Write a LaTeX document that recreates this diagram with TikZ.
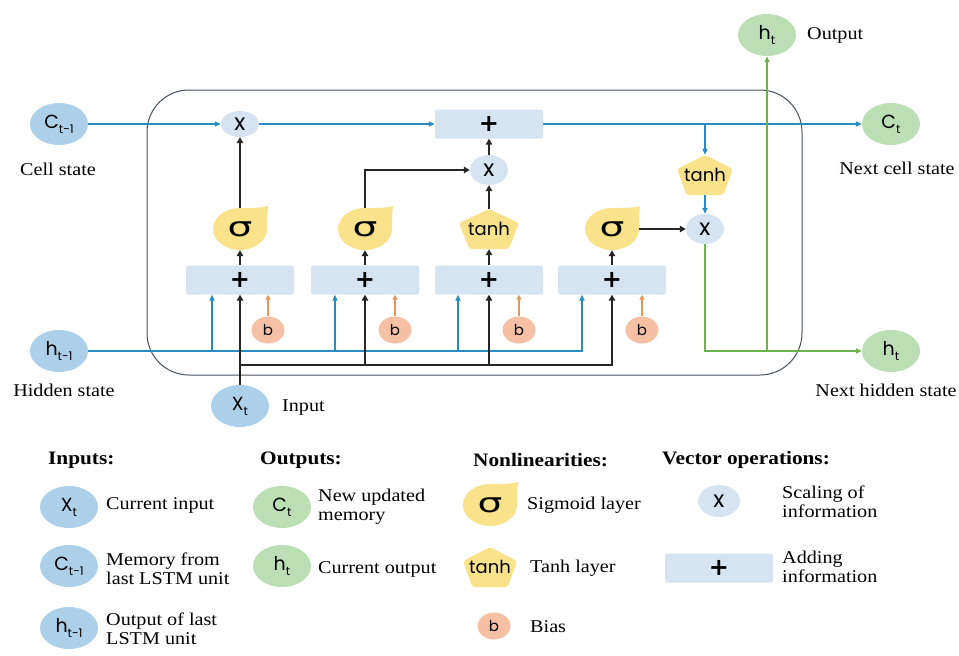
\documentclass[tikz,border=0pt]{standalone}
\usepackage{fontspec}
\setmainfont{Liberation Serif}[FakeStretch=1.12]
\newfontfamily\symfont{Poppins}
\newfontfamily\sigfont{DejaVu Sans}[FakeStretch=1.45]
\newfontfamily\plusfont{DejaVu Sans}
\usetikzlibrary{arrows.meta,calc,shapes.geometric,backgrounds}
\definecolor{inblue}{RGB}{172,208,234}
\definecolor{outgreen}{RGB}{188,222,180}
\definecolor{sigyel}{RGB}{250,226,138}
\definecolor{biasor}{RGB}{246,192,164}
\definecolor{opblue}{RGB}{214,228,242}
\definecolor{lineblue}{RGB}{40,140,196}
\definecolor{linegreen}{RGB}{110,178,76}
\definecolor{arrowor}{RGB}{232,150,88}
\definecolor{framegray}{RGB}{70,82,96}
\newcommand\lsub[1]{\raisebox{-5pt}{\fontsize{12}{12}\selectfont #1}}
\newcommand\teardrop[1]{\fill[sigyel, shift={(#1.center)}] (0pt,21pt) .. controls (12pt,21pt) and (22pt,21pt) .. (28pt,23pt) .. controls (27pt,16pt) and (27pt,8pt) .. (27pt,0pt) arc[start angle=0, end angle=-270, x radius=27pt, y radius=21pt] -- cycle;}
\newcommand\pentshape[2]{\fill[sigyel, rounded corners=3pt, shift={(#1.center)}] (0pt,20pt) -- (#2pt,6pt) -- ({#2*0.66pt},-20pt) -- ({-#2*0.66pt},-20pt) -- (-#2pt,6pt) -- cycle;}
\begin{document}
\begin{tikzpicture}[x=1pt,y=-1pt,
  incirc/.style={ellipse, fill=inblue, minimum width=58pt, minimum height=42pt, inner sep=0pt, font=\symfont\fontsize{19}{19}\selectfont},
  outcirc/.style={ellipse, fill=outgreen, minimum width=58pt, minimum height=42pt, inner sep=0pt, font=\symfont\fontsize{19}{19}\selectfont},
  mulc/.style={ellipse, fill=opblue, minimum width=38pt, minimum height=30pt, inner sep=0pt, font=\symfont\fontsize{23}{23}\selectfont},
  addbox/.style={rectangle, rounded corners=2pt, fill=opblue, minimum width=108pt, minimum height=29pt, inner sep=0pt, font=\plusfont\bfseries\fontsize{24}{24}\selectfont},
  biasc/.style={ellipse, fill=biasor, minimum width=33pt, minimum height=27pt, inner sep=0pt, font=\symfont\fontsize{15}{15}\selectfont},
  sigm/.style={rectangle, inner sep=0pt, minimum width=54pt, minimum height=42pt, font=\sigfont\fontsize{27}{27}\selectfont},
  pent/.style={rectangle, inner sep=0pt, minimum width=60pt, minimum height=40pt, font=\symfont\fontsize{18}{18}\selectfont},
  lab/.style={inner sep=0pt, font=\fontsize{18}{19}\selectfont},
  leg/.style={inner sep=0pt, anchor=west, align=left, font=\fontsize{18}{19}\selectfont},
  hdr/.style={inner sep=0pt, anchor=west, font=\bfseries\fontsize{19}{19}\selectfont},
  bk/.style={line width=2.6pt, black!85, -{Triangle[length=6pt,width=6.5pt]}},
  bl/.style={line width=2pt, lineblue, -{Triangle[length=6pt,width=5pt]}},
  gr/.style={line width=2.4pt, linegreen, -{Triangle[length=6pt,width=5pt]}},
  orr/.style={line width=1.8pt, arrowor, -{Triangle[length=5pt,width=5pt]}}
]
\useasboundingbox (0,0) rectangle (959,656);
% frame
\draw[framegray, line width=1pt, rounded corners=42pt] (147,90) rectangle (802,375);

% nodes of the cell
\node[incirc] (Ct1) at (59,124) {C\lsub{t-1}};
\node[incirc] (Ht1) at (59,351) {h\lsub{t-1}};
\node[incirc] (Xt) at (240,406) {X\lsub{t}};
\node[outcirc] (Ct) at (891,124) {C\lsub{t}};
\node[outcirc] (hN) at (891,351) {h\lsub{t}};
\node[outcirc] (hOut) at (767,35) {h\lsub{t}};

\node[mulc, minimum height=26pt] (x1) at (240,124) {x};
\node[mulc] (xM) at (489,170) {x};
\node[mulc] (xR) at (705,229) {x};
\node[addbox] (addTop) at (489,124) {+};

\node[addbox] (a1) at (240,280) {+};
\node[addbox] (a2) at (365,280) {+};
\node[addbox] (a3) at (489,280) {+};
\node[addbox] (a4) at (612,280) {+};

\node[sigm] (s1) at (240,229) {σ};
\node[sigm] (s2) at (365,229) {σ};
\node[pent] (t3) at (489,229) {tanh};
\node[sigm] (s4) at (612,229) {σ};
\node[pent, minimum width=56pt] (tR) at (705,175) {tanh};

\node[biasc] (b1) at (268,330) {b};
\node[biasc] (b2) at (395,330) {b};
\node[biasc] (b3) at (519,330) {b};
\node[biasc] (b4) at (642,330) {b};

% labels
\node[lab] (lCell) at (58,169) {Cell state};
\node[lab] (lHid) at (64,390) {Hidden state};
\node[lab, anchor=west] (lIn) at (282,408) {Input};
\node[lab, anchor=west] (lOut) at (807,35) {Output};
\node[lab] (lNC) at (897,168) {Next cell state};
\node[lab] (lNH) at (886,390) {Next hidden state};

% coordinates
\coordinate (hb1) at (212,351);
\coordinate (hb2) at (335,351);
\coordinate (hb3) at (458,351);
\coordinate (hb4) at (582,351);
\coordinate (xb0) at (240,365);
\coordinate (xb2) at (365,365);
\coordinate (xb3) at (489,365);
\coordinate (xb4) at (612,365);
\coordinate (jC) at (705,124);
\coordinate (jG) at (767,351);

% cell state line
\draw[bl] (Ct1) -- (x1);
\draw[bl] (x1) -- (addTop);
\draw[bl] (addTop) -- (Ct);
\draw[bl] (jC) -- (tR.north);
\draw[bl] (tR.south) -- (xR.north);

% hidden state line
\draw[bl] (Ht1.east) -- (hb4) -- (hb4 |- a4.south);
\draw[bl] (hb1) -- (hb1 |- a1.south);
\draw[bl] (hb2) -- (hb2 |- a2.south);
\draw[bl] (hb3) -- (hb3 |- a3.south);

% input lines
\draw[bk] (Xt.north) -- (a1.south);
\draw[bk] (xb0) -- (xb4) -- (a4.south);
\draw[bk] (xb2) -- (a2.south);
\draw[bk] (xb3) -- (a3.south);

% bias
\draw[orr] (b1.north) -- (b1 |- a1.south);
\draw[orr] (b2.north) -- (b2 |- a2.south);
\draw[orr] (b3.north) -- (b3 |- a3.south);
\draw[orr] (b4.north) -- (b4 |- a4.south);

% gates
\draw[bk] (a1.north) -- (s1.south);
\draw[bk] (a2.north) -- (s2.south);
\draw[bk] (a3.north) -- (t3.south);
\draw[bk] (a4.north) -- (s4.south);
\draw[bk] (s1.north) -- (x1.south);
\draw[bk] (s2.north) |- (xM.west);
\draw[bk] (t3.north) -- (xM.south);
\draw[bk] (xM.north) -- (addTop.south);
\draw[bk] (s4.east) -- (xR.west);

% output
\draw[gr] (xR.south) |- (hN.west);
\draw[gr] (jG) -- (hOut.south);

% legend
\node[hdr] (hIn) at (48,460) {Inputs:};
\node[incirc] (LX) at (69,507) {X\lsub{t}};
\node[leg] (LXt) at (106,505) {Current input};
\node[incirc] (LC) at (69,566) {C\lsub{t-1}};
\node[leg] (LCt1) at (106,569) {Memory from\\last LSTM unit};
\node[incirc] (LH) at (69,628) {h\lsub{t-1}};
\node[leg] (LHt) at (106,629) {Output of last\\LSTM unit};

\node[hdr] (hOutL) at (260,460) {Outputs:};
\node[outcirc] (LCo) at (282,507) {C\lsub{t}};
\node[leg] (LCot) at (318,507) {New updated\\memory};
\node[outcirc] (Lho) at (282,566) {h\lsub{t}};
\node[leg] (Lhot) at (318,569) {Current output};

\node[hdr] (hNon) at (473,460) {Nonlinearities:};
\node[sigm] (Ls) at (490,505) {σ};
\node[leg] (Lst) at (527,505) {Sigmoid layer};
\node[pent, minimum width=56pt] (Lt) at (490,567) {tanh};
\node[leg] (Ltt) at (530,568) {Tanh layer};
\node[biasc] (Lb) at (494,626) {b};
\node[leg] (Lbt) at (530,627) {Bias};

\node[hdr] (hVec) at (662,460) {Vector operations:};
\node[mulc, minimum width=42pt, minimum height=32pt] (Lx) at (719,501) {x};
\node[leg] (Lxt) at (782,502) {Scaling of\\information};
\node[addbox] (La) at (719,568) {+};
\node[leg] (Lat) at (782,567) {Adding\\information};

% yellow layer shapes
\begin{scope}[on background layer]
\teardrop{s1}
\teardrop{s2}
\teardrop{s4}
\teardrop{Ls}
\pentshape{t3}{30}
\pentshape{tR}{28}
\pentshape{Lt}{27}
\end{scope}
\end{tikzpicture}
\end{document}
